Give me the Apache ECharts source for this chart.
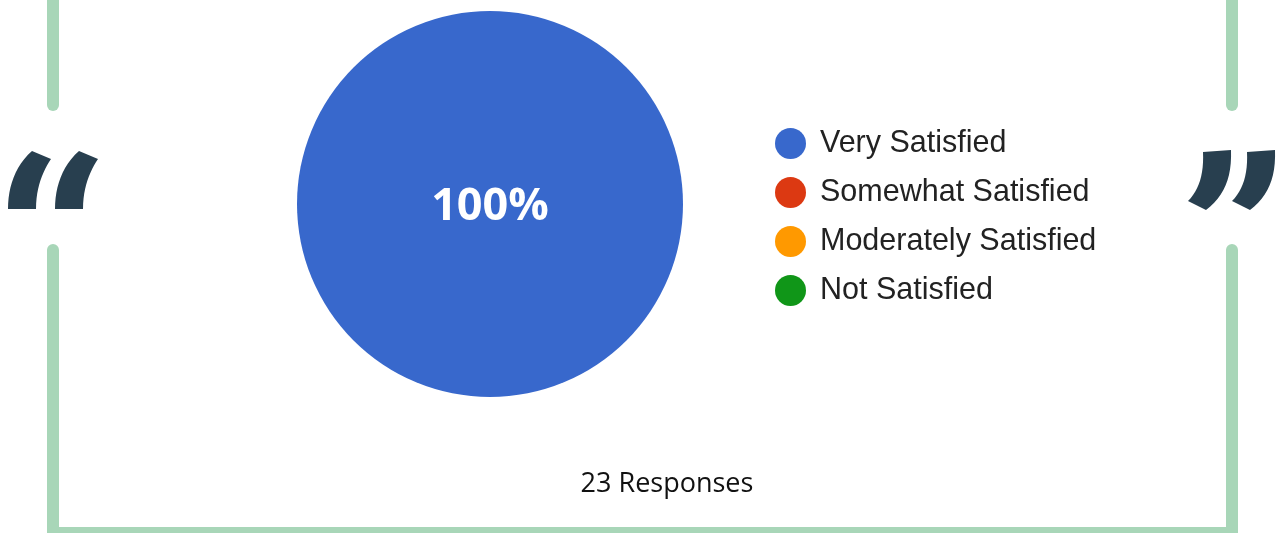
<!DOCTYPE html>
<html>
<head>
<meta charset="utf-8">
<script src="https://cdn.jsdelivr.net/npm/echarts@6/dist/echarts.min.js"></script>
<style>
  html, body { margin: 0; padding: 0; background: #fff; }
  #chart { width: 1279px; height: 533px; }
</style>
</head>
<body>
<div id="chart"></div>
<script>
// survey answers
const categories = ['Very Satisfied', 'Somewhat Satisfied', 'Moderately Satisfied', 'Not Satisfied'];
const responses = [23, 0, 0, 0];
const colors = ['#3868cc', '#dc3912', '#ff9900', '#109618'];
const totalLabel = '23 Responses';

const frameColor = '#a8d6b8';
const quoteColor = '#283f4f';

const chart = echarts.init(document.getElementById('chart'));

const total = responses.reduce((a, b) => a + b, 0);

// sample a cubic bezier into points (for the quote shapes)
function bez(p0, p1, p2, p3, n) {
    const pts = [];
    for (let i = 0; i <= n; i++) {
        const t = i / n, u = 1 - t;
        pts.push([
            u * u * u * p0[0] + 3 * u * u * t * p1[0] + 3 * u * t * t * p2[0] + t * t * t * p3[0],
            u * u * u * p0[1] + 3 * u * u * t * p1[1] + 3 * u * t * t * p2[1] + t * t * t * p3[1]
        ]);
    }
    return pts;
}

const openShape = [].concat(
    [[32, 151]],
    bez([51, 159], [43, 171], [36, 187], [36, 209], 12),
    bez([8, 209], [8, 187], [15, 166], [32, 151], 12)
);
const closeShape = [].concat(
    [[1203, 152]],
    bez([1231, 150], [1232, 178], [1224, 196], [1206, 210], 12),
    bez([1188, 201], [1199, 190], [1204, 174], [1203, 152], 12)
);

function mark(points, dx) {
    return {
        type: 'polygon',
        x: dx,
        shape: { points: points },
        style: { fill: quoteColor }
    };
}

chart.setOption({
    animation: false,
    color: colors,
    legend: {
        orient: 'vertical',
        left: 775,
        top: 128,
        padding: 0,
        icon: 'circle',
        itemWidth: 31,
        itemHeight: 31,
        itemGap: 18,
        selectedMode: false,
        data: categories,
        textStyle: {
            fontFamily: '"Liberation Sans", Arial, sans-serif',
            fontSize: 30.5,
            color: '#222',
            padding: [5, 0, 0, 9]
        }
    },
    graphic: [
        // frame pieces
        {
            type: 'polyline',
            shape: { points: [[53, -10], [53, 105]] },
            style: { stroke: frameColor, lineWidth: 12, lineCap: 'round', fill: null }
        },
        {
            type: 'polyline',
            shape: { points: [[1232, -10], [1232, 105]] },
            style: { stroke: frameColor, lineWidth: 12, lineCap: 'round', fill: null }
        },
        {
            type: 'polyline',
            shape: { points: [[53, 250], [53, 533], [1232, 533], [1232, 250]] },
            style: { stroke: frameColor, lineWidth: 12, lineCap: 'round', lineJoin: 'miter', fill: null }
        },
        mark(openShape, 0), mark(openShape, 47),
        mark(closeShape, 0), mark(closeShape, 44),
        {
            type: 'text',
            x: 667,
            y: 484,
            style: {
                text: totalLabel,
                fill: '#111',
                font: '27px "Open Sans", sans-serif',
                textAlign: 'center',
                textVerticalAlign: 'middle'
            }
        }
    ],
    series: [{
        type: 'pie',
        center: [490, 204],
        radius: 193,
        startAngle: 90,
        minAngle: 0,
        avoidLabelOverlap: false,
        itemStyle: { borderWidth: 0 },
        emphasis: { disabled: true },
        label: {
            show: true,
            position: 'center',
            offset: [0, 3],
            formatter: p => p.value > 0 ? Math.round(p.value / total * 100) + '%' : '',
            color: '#fff',
            fontFamily: 'Open Sans, sans-serif',
            fontWeight: 'bold',
            fontSize: 45
        },
        labelLine: { show: false },
        data: categories.map((name, i) => ({ name: name, value: responses[i] }))
    }]
});
</script>
</body>
</html>
